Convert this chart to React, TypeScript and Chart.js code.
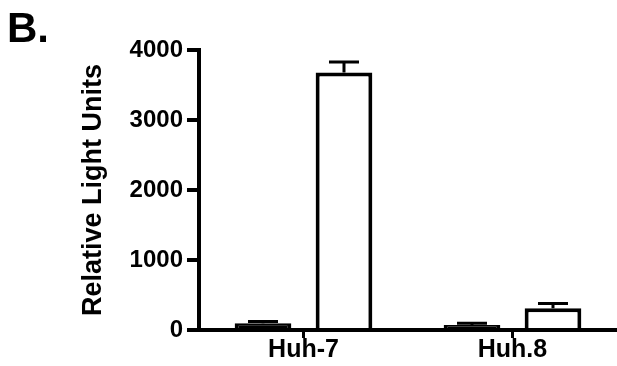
import React, { useEffect, useRef } from "react";
import { Chart, registerables } from "chart.js";

Chart.register(...registerables);

const categories = ["Huh-7", "Huh.8"];
const controlValues = [95, 70];
const controlErrors = [25, 25];
const treatedValues = [3680, 310];
const treatedErrors = [150, 70];
const yTicks = [0, 1000, 2000, 3000, 4000];

const FONT = "'Liberation Sans', Arial, Helvetica, sans-serif";

const errorBarPlugin = {
  id: "errorBars",
  afterDatasetsDraw(chart: any) {
    const ctx = chart.ctx;
    const yScale = chart.scales.y;
    const errs = [controlErrors, treatedErrors];
    chart.data.datasets.forEach((ds: any, i: number) => {
      const meta = chart.getDatasetMeta(i);
      meta.data.forEach((el: any, j: number) => {
        const v = ds.data[j];
        const e = errs[i][j];
        const yBase = yScale.getPixelForValue(v);
        const yTop = yScale.getPixelForValue(v + e);
        ctx.save();
        ctx.strokeStyle = "#000";
        ctx.lineWidth = 3;
        ctx.beginPath();
        ctx.moveTo(el.x, yBase);
        ctx.lineTo(el.x, yTop);
        ctx.moveTo(el.x - 15, yTop);
        ctx.lineTo(el.x + 15, yTop);
        ctx.stroke();
        ctx.restore();
      });
    });
  },
};

export default function App() {
  const ref = useRef<HTMLCanvasElement | null>(null);
  useEffect(() => {
    if (!ref.current) return;
    const chart = new Chart(ref.current, {
      type: "bar",
      data: {
        labels: categories,
        datasets: [
          {
            label: "Control",
            data: controlValues,
            backgroundColor: "#000",
            borderColor: "#000",
            borderWidth: 4,
            categoryPercentage: 0.775,
            barPercentage: 0.7,
          },
          {
            label: "Treated",
            data: treatedValues,
            backgroundColor: "#fff",
            borderColor: "#000",
            borderWidth: 4,
            categoryPercentage: 0.775,
            barPercentage: 0.7,
          },
        ],
      },
      options: {
        responsive: false,
        animation: false,
        devicePixelRatio: 1,
        layout: { padding: { top: 50, left: 0, right: 0, bottom: 0 } },
        plugins: {
          legend: { display: false },
          tooltip: { enabled: false },
        },
        scales: {
          x: {
            type: "category",
            offset: true,
            afterFit: (s: any) => {
              s.height = 36;
            },
            grid: {
              offset: false,
              drawOnChartArea: false,
              drawTicks: true,
              tickLength: 8,
              lineWidth: 3,
              color: "#000",
            },
            border: { display: true, width: 4, color: "#000" },
            ticks: {
              color: "#000",
              padding: 0,
              font: { family: FONT, size: 25, weight: "bold", lineHeight: 1 },
            },
          },
          y: {
            min: 0,
            max: 4000,
            afterFit: (s: any) => {
              s.width = 199;
            },
            afterBuildTicks: (s: any) => {
              s.ticks = yTicks.map((v) => ({ value: v }));
            },
            grid: {
              drawOnChartArea: false,
              drawTicks: true,
              tickLength: 12,
              lineWidth: 4,
              color: "#000",
            },
            border: { display: true, width: 4, color: "#000" },
            ticks: {
              color: "#000",
              padding: 4,
              font: { family: FONT, size: 24, weight: "bold" },
              callback: (v: any) => String(v),
            },
            title: {
              display: true,
              text: "Relative Light Units",
              color: "#000",
              padding: { top: 77, bottom: 0 },
              font: { family: FONT, size: 27, weight: "bold" },
            },
          },
        },
      },
      plugins: [errorBarPlugin],
    });
    return () => chart.destroy();
  }, []);

  return (
    <div
      style={{
        position: "fixed",
        left: 0,
        top: 0,
        width: 617,
        height: 366,
        background: "#fff",
      }}
    >
      <canvas
        ref={ref}
        width={617}
        height={366}
        style={{ width: 617, height: 366, display: "block" }}
      />
      <div
        style={{
          position: "absolute",
          left: 7,
          top: 7,
          fontFamily: FONT,
          fontWeight: "bold",
          fontSize: 42,
          lineHeight: 1,
          color: "#000",
        }}
      >
        B.
      </div>
    </div>
  );
}
